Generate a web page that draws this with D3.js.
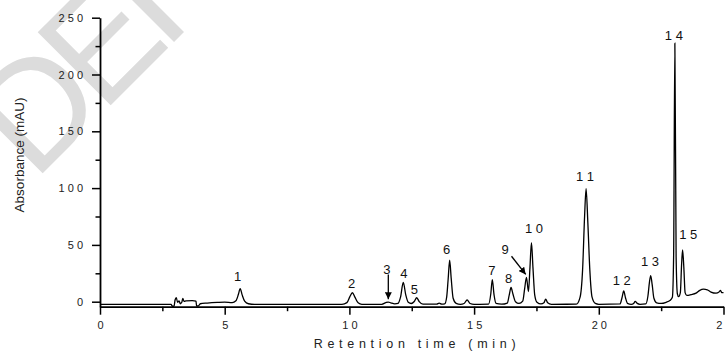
<!DOCTYPE html>
<html>
<head>
<meta charset="utf-8">
<script src="https://d3js.org/d3.v7.min.js"></script>
<style>
  body { margin: 0; background: #fff; }
  svg { display: block; font-family: "Liberation Sans", Arial, sans-serif; }
</style>
</head>
<body>
<div id="container"></div>
<script>
/* CONSTANTS AND GLOBALS */
const width = 725;
const height = 351;
const margin = {top: 17.7, bottom: 44.3, left: 100, right: 1.5};

// axis ticks
const xMajor = [0, 5, 10, 15, 20, 25];
const xMinor = [2.5, 7.5, 12.5, 17.5, 22.5];
const yMajor = [0, 50, 100, 150, 200, 250];
const yMinor = [25, 75, 125, 175, 225];

// chromatogram trace (min, mAU)
const retentionTime = [0, 2.85, 2.9, 2.97, 3.01, 3.06, 3.11, 3.17, 3.22, 3.28, 3.32, 3.37, 3.45, 3.7, 3.85, 3.87, 3.95, 4.02, 4.3, 4.7, 5.0, 5.3,
  5.45, 5.55, 5.62, 5.7, 5.8, 5.95, 6.2, 9.7, 9.9, 10.02, 10.12, 10.22, 10.35, 10.5, 11.3, 11.46, 11.56, 11.66, 11.82, 11.95,
  12.05, 12.16, 12.26, 12.36, 12.48, 12.6, 12.7, 12.8, 12.95, 13.5, 13.6, 13.7, 13.82, 13.9, 13.96, 14.02, 14.08, 14.16, 14.28, 14.45,
  14.6, 14.72, 14.84, 15.0, 15.58, 15.67, 15.73, 15.8, 15.88, 16.1, 16.33, 16.41, 16.48, 16.56, 16.66, 16.8, 16.95, 17.03, 17.1, 17.18,
  17.24, 17.3, 17.36, 17.43, 17.52, 17.68, 17.8, 17.87, 17.95, 18.1, 19.1, 19.25, 19.35, 19.43, 19.49, 19.56, 19.64, 19.73, 19.86, 20.0,
  20.85, 20.93, 21.0, 21.07, 21.15, 21.3, 21.4, 21.46, 21.54, 21.65, 21.88, 21.97, 22.03, 22.08, 22.14, 22.21, 22.32, 22.5, 22.7, 22.85,
  22.95, 23.0, 23.05, 23.1, 23.15, 23.2, 23.27, 23.32, 23.36, 23.41, 23.46, 23.53, 23.7, 23.9, 24.05, 24.2, 24.35, 24.5, 24.7, 24.82,
  24.88, 24.93, 25];
const absorbance = [-2.3, -2.3, -4.0, -3.8, 1.5, 3.5, -0.5, 0.8, -1.8, -0.5, 3.0, 0.2, 0.8, 0.9, 0.6, -3.8, -3.6, -1.8, -1.2, -0.6, -0.3, -0.8,
  0.8, 6.5, 11.5, 6, 0.5, -1.8, -2.3, -2.3, -0.8, 4.5, 7.9, 4, -1, -2.3, -2.3, -0.8, -0.3, -1.0, -1.9, -1.5,
  4, 17, 6, -0.5, -1.6, 0.2, 3.5, 0, -2.2, -2.2, -1.2, -2.2, -2.0, 4, 20, 36.5, 21, 3, -1.5, -2.3,
  -1.6, 1.5, -1.6, -2.3, -2.2, 7, 19.5, 6, -1.5, -2.2, -1.2, 6, 12.5, 6.5, 0, -1.5, 0.5, 12, 21.5, 8.8,
  30, 52, 30, 6, -0.5, -2.0, -1.0, 2.3, -1.0, -2.3, -2.2, 4, 28, 75, 99.5, 70, 28, 4, -1.5, -2.3,
  -2.0, 3.5, 9.4, 3.5, -1.5, -2.3, -1.5, 0.3, -1.5, -2.3, -2.0, 5, 17, 23, 15, 3, -1.0, -1.5, -0.5, 1,
  4, 40, 227.5, 40, 7, 4.4, 8, 33, 45.5, 30, 8, 5.5, 6.2, 7.5, 10, 11, 10.5, 8.5, 7.5, 8.5,
  10, 8, 8];

// peak labels (label anchor in data units)
const peakNames = ["1", "2", "3", "4", "5", "6", "7", "8", "9", "10", "11", "12", "13", "14", "15"];
const labelTime = [5.52, 10.09, 11.5, 12.18, 12.6, 13.9, 15.71, 16.38, 16.24, 17.4, 19.45, 20.92, 22.05, 23.01, 23.59];
const labelValue = [17.9, 12.1, 24.6, 20.9, 6.8, 42, 23.8, 16.5, 42.3, 60.5, 105.9, 15, 31.1, 230.6, 55.5];

// arrows for peaks 3 and 9: [t0, v0, t1, v1]
const arrows = [[11.56, 24.0, 11.56, 2.2], [16.5, 40.0, 17.07, 24.0]];

const spaced = d => String(d).split("").join(" ");

/* SCALES */
const xScale = d3.scaleLinear()
  .domain([0, 25])
  .range([margin.left, width - margin.right]);

const yScale = d3.scaleLinear()
  .domain([-4.4, 250])
  .range([height - margin.bottom, margin.top]);

/* HTML ELEMENTS */
const svg = d3.select("#container")
  .append("svg")
  .attr("width", width)
  .attr("height", height);

// faint watermark behind everything
svg.append("text")
  .attr("transform", "translate(34,182) rotate(-45)")
  .attr("font-size", 150)
  .attr("letter-spacing", -12)
  .attr("fill", "#dcdcdc")
  .text("DEI");

// trace
const data = retentionTime.map((t, i) => ({t: t, v: absorbance[i]}));
const line = d3.line()
  .x(d => xScale(d.t))
  .y(d => yScale(d.v))
  .curve(d3.curveMonotoneX);

svg.append("path")
  .datum(data)
  .attr("fill", "none")
  .attr("stroke", "#000")
  .attr("stroke-width", 1.3)
  .attr("d", line);

// axes
const yAxisGroup = svg.append("g")
  .attr("transform", `translate(${margin.left},0)`)
  .call(d3.axisLeft(yScale).tickValues(yMajor).tickSize(8).tickSizeOuter(0).tickPadding(9).tickFormat(spaced));
svg.append("g")
  .attr("transform", `translate(${margin.left},0)`)
  .call(d3.axisLeft(yScale).tickValues(yMinor).tickSize(4.5).tickFormat(""))
  .select(".domain").remove();

const xAxisGroup = svg.append("g")
  .attr("transform", `translate(0,${height - margin.bottom})`)
  .call(d3.axisBottom(xScale).tickValues(xMajor).tickSize(8).tickSizeOuter(0).tickPadding(7).tickFormat(spaced));
svg.append("g")
  .attr("transform", `translate(0,${height - margin.bottom})`)
  .call(d3.axisBottom(xScale).tickValues(xMinor).tickSize(4.5).tickFormat(""))
  .select(".domain").remove();

svg.selectAll(".domain").attr("stroke-width", 1.8);
svg.selectAll(".tick line").attr("stroke-width", 1.5);
svg.selectAll(".tick text")
  .attr("font-family", "'Liberation Sans', Arial, sans-serif")
  .attr("font-size", 11)
  .attr("fill", "#222");

// axis titles
svg.append("text")
  .attr("transform", "translate(24,155) rotate(-90)")
  .attr("text-anchor", "middle")
  .attr("font-size", 13.5)
  .attr("fill", "#222")
  .text("Absorbance (mAU)");

svg.append("text")
  .attr("x", 417)
  .attr("y", 348)
  .attr("text-anchor", "middle")
  .attr("font-size", 12.5)
  .attr("letter-spacing", 4.7)
  .attr("fill", "#222")
  .text("Retention time (min)");

// peak labels
svg.selectAll("text.peak")
  .data(peakNames)
  .join("text")
  .attr("class", "peak")
  .attr("x", (d, i) => xScale(labelTime[i]))
  .attr("y", (d, i) => yScale(labelValue[i]))
  .attr("text-anchor", "middle")
  .attr("font-size", 13)
  .attr("fill", "#111")
  .text(spaced);

// arrows
svg.append("defs").append("marker")
  .attr("id", "head")
  .attr("viewBox", "0 0 10 10")
  .attr("refX", 10).attr("refY", 5)
  .attr("markerWidth", 7).attr("markerHeight", 7)
  .attr("markerUnits", "userSpaceOnUse")
  .attr("orient", "auto")
  .append("path")
  .attr("d", "M0,0 L10,5 L0,10 Z")
  .attr("fill", "#000");

svg.selectAll("line.arrow")
  .data(arrows)
  .join("line")
  .attr("class", "arrow")
  .attr("x1", d => xScale(d[0]))
  .attr("y1", d => yScale(d[1]))
  .attr("x2", d => xScale(d[2]))
  .attr("y2", d => yScale(d[3]))
  .attr("stroke", "#000")
  .attr("stroke-width", 1.3)
  .attr("marker-end", "url(#head)");
</script>
</body>
</html>
